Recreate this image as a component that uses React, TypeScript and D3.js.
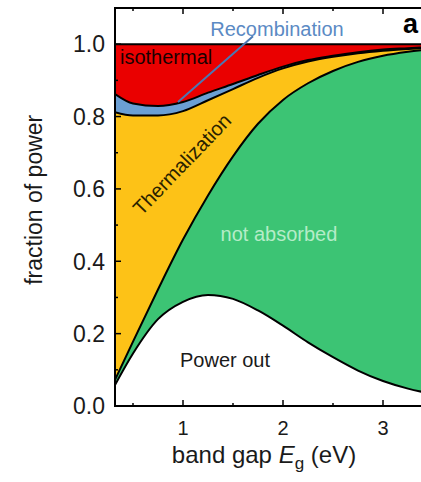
import React from "react";
import * as d3 from "d3";

const W = 421;
const H = 482;

// band gap grid (eV)
const bandGap = [0.32, 0.5, 0.75, 1.0, 1.25, 1.5, 1.75, 2.0, 2.25, 2.5, 2.75, 3.0, 3.25, 3.5];
// cumulative fractions, bottom to top
const powerOut = [0.058, 0.145, 0.24, 0.288, 0.307, 0.296, 0.264, 0.222, 0.176, 0.135, 0.098, 0.069, 0.048, 0.033];
const notAbsorbedTop = [0.072, 0.178, 0.322, 0.46, 0.582, 0.69, 0.78, 0.846, 0.892, 0.926, 0.951, 0.968, 0.979, 0.987];
const thermalTop = [0.812, 0.803, 0.803, 0.815, 0.845, 0.876, 0.907, 0.933, 0.952, 0.965, 0.975, 0.982, 0.987, 0.991];
const recombTop = [0.862, 0.836, 0.829, 0.84, 0.866, 0.89, 0.915, 0.938, 0.956, 0.968, 0.978, 0.985, 0.989, 0.993];
const isothermalTop = bandGap.map(() => 1.0);

const yTicks = [0, 0.2, 0.4, 0.6, 0.8, 1.0];
const yMinor = [0.1, 0.3, 0.5, 0.7, 0.9];
const xTicks = [1, 2, 3];
const xMinor = [0.5, 1.5, 2.5];

const FONT = "'Liberation Sans', Arial, sans-serif";

const x = d3.scaleLinear().domain([0.32, 3.5]).range([115, 433]);
const y = d3.scaleLinear().domain([0, 1.1]).range([406, 8]);

const band = (lo: number[], hi: number[]) =>
  d3
    .area<number>()
    .x((_, i) => x(bandGap[i]))
    .y0((_, i) => y(lo[i]))
    .y1((_, i) => y(hi[i]))
    .curve(d3.curveMonotoneX)(bandGap) as string;

const edge = (vals: number[]) =>
  d3
    .line<number>()
    .x((_, i) => x(bandGap[i]))
    .y((_, i) => y(vals[i]))
    .curve(d3.curveMonotoneX)(bandGap) as string;

const App = () => {
  const left = x(0.32);
  const bottom = y(0);
  const top = y(1.1);
  return (
    <svg
      width={W}
      height={H}
      style={{ position: "absolute", left: 0, top: 0, background: "#fff" }}
      fontFamily={FONT}
    >
      <defs>
        <clipPath id="plot">
          <rect x={left} y={top} width={W - left} height={bottom - top} />
        </clipPath>
      </defs>
      <g clipPath="url(#plot)">
        <path d={band(powerOut, notAbsorbedTop)} fill="#3cc474" />
        <path d={band(notAbsorbedTop, thermalTop)} fill="#fdc217" />
        <path d={band(thermalTop, recombTop)} fill="#6b9fd4" />
        <path d={band(recombTop, isothermalTop)} fill="#ea0000" />
        {[powerOut, notAbsorbedTop, thermalTop, recombTop, isothermalTop].map((v, i) => (
          <path key={i} d={edge(v)} fill="none" stroke="#000" strokeWidth={2} />
        ))}
      </g>

      {/* frame */}
      <path
        d={`M${W},${top}H${left}V${bottom}H${W}`}
        fill="none"
        stroke="#000"
        strokeWidth={2}
      />
      {yTicks.map((t) => (
        <g key={t}>
          <line x1={left} x2={left + 6} y1={y(t)} y2={y(t)} stroke="#000" strokeWidth={1.5} />
          <text
            x={left - 10}
            y={y(t)}
            dy="0.36em"
            textAnchor="end"
            fontSize={23}
            fill="#1a1a1a"
          >
            {t.toFixed(1)}
          </text>
        </g>
      ))}
      {yMinor.map((t) => (
        <line key={t} x1={left} x2={left + 3} y1={y(t)} y2={y(t)} stroke="#000" strokeWidth={1.5} />
      ))}
      {xTicks.map((t) => (
        <g key={t}>
          <line x1={x(t)} x2={x(t)} y1={bottom} y2={bottom - 6} stroke="#000" strokeWidth={1.5} />
          <line x1={x(t)} x2={x(t)} y1={top} y2={top + 6} stroke="#000" strokeWidth={1.5} />
          <text x={x(t)} y={435} textAnchor="middle" fontSize={20} fill="#1a1a1a">
            {t}
          </text>
        </g>
      ))}
      {xMinor.map((t) => (
        <g key={t}>
          <line x1={x(t)} x2={x(t)} y1={bottom} y2={bottom - 3} stroke="#000" strokeWidth={1.5} />
          <line x1={x(t)} x2={x(t)} y1={top} y2={top + 3} stroke="#000" strokeWidth={1.5} />
        </g>
      ))}

      {/* axis titles */}
      <text
        transform={`translate(42, ${y(0.57)}) rotate(-90)`}
        textAnchor="middle"
        fontSize={23}
        fill="#1a1a1a"
      >
        fraction of power
      </text>
      <text x={264} y={463} textAnchor="middle" fontSize={24} fill="#1a1a1a">
        band gap <tspan fontStyle="italic">E</tspan>
        <tspan fontSize={17} dy={6}>g</tspan>
        <tspan dy={-6}> (eV)</tspan>
      </text>

      {/* annotations */}
      <line
        x1={x(1.7)}
        y1={y(1.022)}
        x2={x(0.95)}
        y2={y(0.84)}
        stroke="#4a78b4"
        strokeWidth={2}
      />
      <text x={x(1.94)} y={y(1.022)} textAnchor="middle" fontSize={20} fill="#5b8ac4">
        Recombination
      </text>
      <text x={x(0.37)} y={y(0.945)} fontSize={20} fill="#1a0000">
        isothermal
      </text>
      <text
        transform={`translate(${x(1.04)}, ${y(0.655)}) rotate(-46)`}
        textAnchor="middle"
        fontSize={20}
        fill="#2a2200"
      >
        Thermalization
      </text>
      <text x={x(1.96)} y={y(0.455)} textAnchor="middle" fontSize={20} fill="#b5ecc8">
        not absorbed
      </text>
      <text x={x(1.42)} y={y(0.108)} textAnchor="middle" fontSize={20} fill="#1a1a1a">
        Power out
      </text>
      <text x={403} y={33} fontSize={27} fontWeight="bold" fill="#000">
        a
      </text>
    </svg>
  );
};

export default App;
